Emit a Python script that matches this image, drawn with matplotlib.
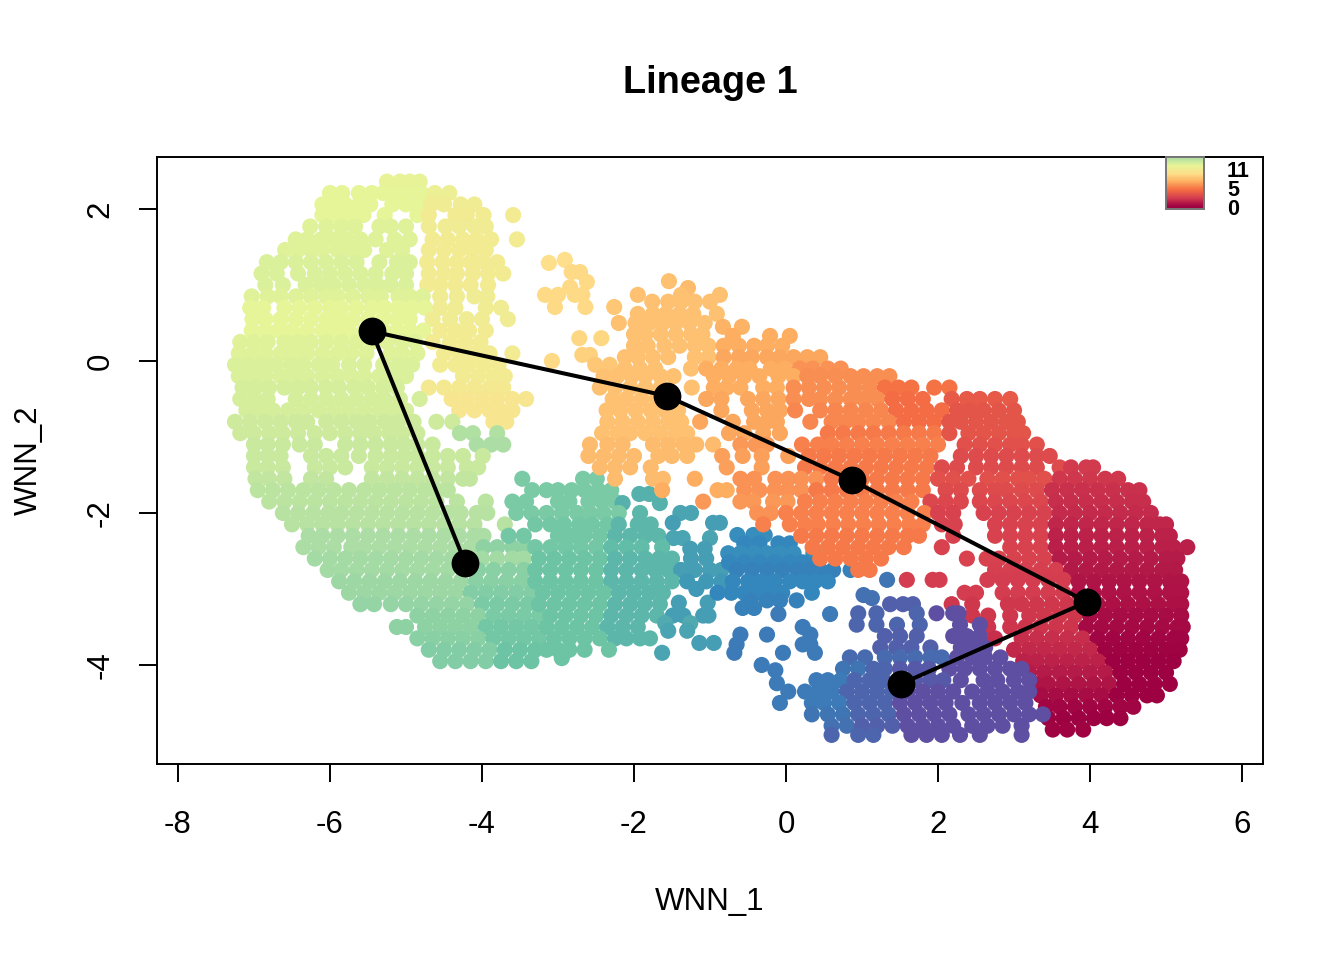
import matplotlib
matplotlib.use('Agg')
import matplotlib.pyplot as plt
from matplotlib.colors import LinearSegmentedColormap

plt.rcParams['font.family'] = ['Liberation Sans', 'DejaVu Sans']
plt.rcParams['axes.unicode_minus'] = False

# Spectral without the pale middle colour
palette = ['#9E0142', '#D53E4F', '#F46D43', '#FDAE61', '#FEE08B',
           '#E6F598', '#ABDDA4', '#66C2A5', '#3288BD', '#5E4FA2']

# each row: WNN_2 value, colour level (0-9), WNN_1 values
crescent_rows = [
    (2.36, 4.9, [-5.25, -5.08, -4.95, -4.82]),
    (2.21, 5.0, [-6.0, -5.84, -5.62, -5.45, -5.3, -5.13, -4.97, -4.8]),
    (2.21, 4.7, [-4.62, -4.43]),
    (2.06, 5.0, [-6.1, -5.95, -5.8, -5.62, -5.47, -5.18, -5.0, -4.82]),
    (2.06, 4.6, [-4.67, -4.5, -4.28, -4.1]),
    (1.92, 5.0, [-6.1, -5.93, -5.76, -5.56, -5.28, -4.85]),
    (1.92, 4.5, [-4.7, -4.35, -4.2, -3.98, -3.59]),
    (1.77, 5.1, [-6.26, -6.05, -5.85, -5.67, -5.35, -5.2, -5.0]),
    (1.77, 4.6, [-4.7, -4.48, -4.3, -4.1, -3.95]),
    (1.6, 5.1, [-6.45, -6.3, -6.12, -5.95, -5.78, -5.6, -5.4, -5.15, -4.95]),
    (1.6, 4.5, [-4.65, -4.45, -4.25, -4.07, -3.88, -3.54]),
    (1.46, 5.1, [-6.59, -6.42, -6.25, -6.1, -5.9, -5.72, -5.55, -5.25, -5.05]),
    (1.46, 4.5, [-4.7, -4.5, -4.3, -4.12, -3.95]),
    (1.3, 5.2, [-6.83, -6.65, -6.45, -6.25, -6.05, -5.85, -5.65, -5.35, -5.12, -4.95]),
    (1.3, 4.5, [-4.72, -4.52, -4.33, -4.15, -3.98, -3.8]),
    (1.15, 5.2, [-6.9, -6.7, -6.42, -6.2, -6.0, -5.8, -5.6, -5.4, -5.18, -5.0]),
    (1.15, 4.5, [-4.7, -4.5, -4.33, -4.12, -3.92, -3.72]),
    (1.0, 5.2, [-6.85, -6.62, -6.32, -6.12, -5.95, -5.75, -5.55, -5.38, -5.2, -5.0]),
    (1.0, 4.5, [-4.72, -4.55, -4.35, -4.15, -3.92]),
    (0.85, 5.1, [-7.03, -6.82, -6.65, -6.45, -6.25, -6.05, -5.9, -5.7, -5.5, -5.33, -5.1, -4.95, -4.78]),
    (0.85, 4.6, [-4.55, -4.33, -4.1, -3.93]),
    (0.7, 5.0, [-7.05, -6.88, -6.6, -6.4, -6.2, -6.0, -5.85, -5.65, -5.45, -5.28, -5.1, -4.92, -4.75]),
    (0.7, 4.6, [-4.55, -4.35, -3.95, -3.75]),
    (0.55, 5.0, [-7.02, -6.85, -6.65, -6.45, -6.25, -6.05, -5.88, -5.7, -5.5, -5.3, -5.12, -4.95]),
    (0.55, 4.6, [-4.65, -4.42, -4.2, -4.0, -3.66]),
    (0.4, 5.0, [-7.03, -6.85, -6.68, -6.5, -6.3, -6.1, -5.93, -5.75, -5.55, -5.3, -5.12, -4.95, -4.77]),
    (0.4, 4.5, [-4.55, -4.35, -4.17, -3.95]),
    (0.25, 5.1, [-7.18, -7.0, -6.82, -6.6, -6.42, -6.25, -6.05, -5.85, -5.65, -5.45, -5.25, -5.05, -4.88]),
    (0.25, 4.5, [-4.65, -4.42, -4.22, -4.02]),
    (0.1, 5.1, [-7.2, -7.02, -6.85, -6.65, -6.48, -6.3, -6.1, -5.9, -5.72, -5.52, -5.2, -5.05, -4.85]),
    (0.1, 4.5, [-4.5, -4.3, -4.1, -3.9, -3.6]),
    (-0.05, 5.2, [-7.25, -7.08, -6.9, -6.72, -6.52, -6.35, -6.15, -5.97, -5.75, -5.55, -5.3, -5.1, -4.92]),
    (-0.05, 4.5, [-4.55, -4.35, -4.18, -3.98, -3.78]),
    (-0.2, 5.2, [-7.2, -7.02, -6.85, -6.65, -6.48, -6.3, -6.1, -5.9, -5.72, -5.55, -5.35, -5.18, -5.0]),
    (-0.2, 4.5, [-4.25, -4.05, -3.85, -3.7]),
    (-0.35, 5.3, [-7.15, -6.98, -6.8, -6.6, -6.42, -6.25, -6.05, -5.88, -5.68, -5.5, -5.3, -5.12]),
    (-0.35, 4.4, [-4.7, -4.5, -4.3, -4.1, -3.9, -3.72]),
    (-0.5, 5.3, [-7.18, -7.0, -6.82, -6.45, -6.25, -6.05, -5.85, -5.65, -5.45, -5.28, -5.08, -4.82]),
    (-0.5, 4.3, [-4.4, -4.2, -4.0, -3.8, -3.6, -3.42]),
    (-0.65, 5.3, [-7.1, -6.92, -6.75, -6.55, -6.35, -6.15, -5.95, -5.75, -5.55, -5.35, -5.18, -5.0]),
    (-0.65, 4.3, [-4.3, -4.1, -3.9, -3.75, -3.6]),
    (-0.8, 5.4, [-7.25, -7.05, -6.85, -6.65, -6.45, -6.3, -6.05, -5.85, -5.65, -5.48, -5.28, -5.1, -4.9, -4.6, -4.39]),
    (-0.8, 4.3, [-3.85, -3.68]),
]

green_rows = [
    (-0.95, 5.4, [-7.18, -7.0, -6.8, -6.62, -6.42, -6.2, -6.0, -5.8, -5.6, -5.42, -5.22, -5.05, -4.85]),
    (-0.95, 5.9, [-4.29, -4.12, -3.8]),
    (-1.1, 5.5, [-7.0, -6.82, -6.62, -6.4, -6.2, -5.8, -5.6, -5.4, -5.2, -5.02, -4.85, -4.65]),
    (-1.1, 6.0, [-4.07, -3.88, -3.72]),
    (-1.25, 5.5, [-7.0, -6.82, -6.65, -6.25, -6.05, -5.85, -5.62, -5.4, -5.2, -5.02, -4.85, -4.65, -4.45, -4.25, -3.99]),
    (-1.4, 5.5, [-7.0, -6.82, -6.62, -6.2, -6.0, -5.8, -5.45, -5.25, -5.05, -4.85, -4.65, -4.45, -4.2, -4.05]),
    (-1.55, 5.6, [-6.98, -6.8, -6.6, -6.25, -6.05, -5.45, -5.25, -5.05, -4.85, -4.65, -4.45, -4.25, -4.16]),
    (-1.7, 5.7, [-6.95, -6.75, -6.55, -6.35, -6.15, -5.95, -5.75, -5.55, -5.35, -5.15, -4.95, -4.75, -4.6, -4.45]),
    (-1.85, 5.7, [-6.8, -6.6, -6.4, -6.2, -6.0, -5.8, -5.6, -5.4, -5.2, -5.0, -4.8, -4.6, -4.33, -3.95]),
    (-2.0, 5.8, [-6.62, -6.42, -6.22, -6.02, -5.85, -5.65, -5.45, -5.25, -5.05, -4.85, -4.65, -4.45, -4.28, -4.07, -3.93]),
    (-2.15, 5.8, [-6.5, -6.3, -6.1, -5.9, -5.7, -5.5, -5.3, -5.1, -4.9, -4.7, -4.5, -4.3, -4.1, -3.7]),
    (-2.3, 6.0, [-6.28, -6.1, -5.9, -5.7, -5.5, -5.3, -5.1, -4.9, -4.7, -4.5, -4.3, -4.1, -3.98]),
    (-2.45, 6.0, [-6.35, -6.15, -5.95, -5.72, -5.55, -5.35, -5.15, -4.95, -4.75, -4.55, -4.35, -4.15]),
    (-2.45, 6.4, [-3.98, -3.8, -3.6, -3.42]),
    (-2.6, 6.1, [-6.2, -6.0, -5.8, -5.6, -5.4, -5.2, -5.0, -4.8, -4.6, -4.4, -4.2, -4.0, -3.8, -3.6, -3.45]),
    (-2.75, 6.1, [-6.03, -5.85, -5.65, -5.45, -5.25, -5.05, -4.85, -4.65, -4.45, -4.25]),
    (-2.75, 6.5, [-4.05, -3.85, -3.65, -3.45]),
    (-2.9, 6.2, [-5.88, -5.68, -5.48, -5.28, -5.08, -4.88, -4.68, -4.48, -4.28]),
    (-2.9, 6.5, [-4.08, -3.88, -3.68, -3.48]),
    (-3.05, 6.2, [-5.75, -5.55, -5.35, -5.15, -4.95, -4.75, -4.55, -4.35]),
    (-3.05, 6.6, [-4.15, -3.95, -3.75, -3.55, -3.35]),
    (-3.2, 6.3, [-5.6, -5.42, -5.2, -5.0, -4.8, -4.6, -4.4, -4.2]),
    (-3.2, 6.7, [-4.0, -3.8, -3.6, -3.4]),
    (-3.35, 6.4, [-4.85, -4.65, -4.45, -4.25, -4.05]),
    (-3.35, 6.7, [-3.85, -3.65, -3.45, -3.25]),
    (-3.5, 6.4, [-5.12, -5.0, -4.75, -4.55, -4.35, -4.15]),
    (-3.5, 6.8, [-3.95, -3.75, -3.55, -3.35]),
    (-3.65, 6.5, [-4.85, -4.65, -4.45, -4.25, -4.05]),
    (-3.65, 6.8, [-3.85, -3.65, -3.45, -3.25]),
    (-3.8, 6.6, [-4.7, -4.5, -4.3, -4.1, -3.9]),
    (-3.8, 6.9, [-3.7, -3.5, -3.3]),
    (-3.95, 6.6, [-4.55, -4.35, -4.15, -3.95]),
    (-3.95, 6.9, [-3.75, -3.55, -3.35]),
]

teal_rows = [
    (-1.55, 6.7, [-3.47, -2.67, -2.49]),
    (-1.7, 6.7, [-3.34, -3.15, -3.0, -2.82, -2.65, -2.47, -2.3]),
    (-1.75, 7.3, [-1.93, -1.8]),
    (-1.85, 6.7, [-3.6, -3.42, -3.0, -2.85, -2.6, -2.42, -2.25]),
    (-1.87, 7.3, [-2.15, -1.66]),
    (-2.0, 6.7, [-3.55, -3.35, -3.15, -2.95, -2.75, -2.58, -2.4, -2.2]),
    (-2.0, 7.2, [-1.92]),
    (-2.0, 7.5, [-1.39, -1.25]),
    (-2.15, 6.8, [-3.3, -3.1, -2.92, -2.72, -2.55, -2.35]),
    (-2.15, 7.2, [-2.2, -1.95, -1.78]),
    (-2.13, 7.6, [-1.49, -0.87, -0.96]),
    (-2.3, 6.8, [-3.65, -3.45, -3.0, -2.82, -2.65, -2.45]),
    (-2.3, 7.2, [-2.25, -2.05, -1.85, -1.68]),
    (-2.33, 7.5, [-1.48, -1.36, -1.0]),
    (-2.45, 6.8, [-3.3, -3.1, -2.9, -2.7, -2.5]),
    (-2.45, 7.1, [-2.3, -2.1, -1.9, -1.63]),
    (-2.47, 7.6, [-1.26, -1.07]),
    (-2.6, 6.9, [-3.25, -3.05, -2.85, -2.65, -2.45]),
    (-2.6, 7.2, [-2.25, -2.05, -1.85, -1.67, -1.5]),
    (-2.6, 7.6, [-1.25, -1.05]),
    (-2.75, 6.9, [-3.3, -3.1, -2.9, -2.7, -2.5]),
    (-2.75, 7.2, [-2.3, -2.1, -1.9, -1.72, -1.55]),
    (-2.75, 7.6, [-1.38, -1.2, -1.0, -0.85]),
    (-2.9, 6.9, [-3.3, -3.1, -2.9, -2.7, -2.5]),
    (-2.9, 7.2, [-2.3, -2.1, -1.9, -1.7, -1.5]),
    (-2.9, 7.7, [-1.3, -1.05, -0.85]),
    (-3.05, 6.9, [-3.2, -3.0, -2.8, -2.6, -2.4]),
    (-3.05, 7.2, [-2.2, -2.0, -1.8, -1.62]),
    (-3.0, 7.7, [-1.18]),
    (-3.2, 6.9, [-3.25, -3.05, -2.85, -2.65, -2.45]),
    (-3.2, 7.2, [-2.25, -2.05, -1.86, -1.66]),
    (-3.18, 7.6, [-1.41, -1.03]),
    (-3.35, 6.9, [-3.1, -2.9, -2.7, -2.5]),
    (-3.35, 7.2, [-2.3, -2.1, -1.9, -1.7]),
    (-3.35, 7.6, [-1.49, -1.35, -1.09, -1.02]),
    (-3.45, 7.4, [-1.59, -1.26]),
    (-3.5, 6.9, [-3.15, -2.95, -2.75, -2.55]),
    (-3.5, 7.2, [-2.35, -2.15, -1.95]),
    (-3.55, 7.5, [-1.55, -1.3]),
    (-3.65, 6.9, [-3.05, -2.85, -2.65, -2.45]),
    (-3.65, 7.2, [-2.25, -2.1, -1.92, -1.79]),
    (-3.71, 7.6, [-1.14, -0.95]),
    (-3.8, 6.9, [-3.15, -3.0, -2.85, -2.65, -2.33]),
    (-3.84, 7.5, [-1.63]),
    (-3.91, 6.9, [-2.95]),
]

blue_rows = [
    (-2.29, 7.9, [-0.64, -0.43, -0.28]),
    (-2.4, 8.0, [-0.55, -0.35, -0.1, 0.05]),
    (-2.53, 7.9, [-0.76, -0.6, -0.42, -0.25, -0.08, 0.1, 0.36]),
    (-2.65, 8.0, [-0.75, -0.55, -0.35, -0.15, 0.05, 0.22, 0.4]),
    (-2.75, 8.1, [-0.65, -0.45, -0.25, -0.05, 0.15, 0.3, 0.45, 0.62, 0.85]),
    (-2.9, 8.0, [-0.7, -0.5, -0.32, -0.15, 0.05, 0.22, 0.38, 0.55]),
    (-3.05, 8.0, [-0.9, -0.72, -0.55, -0.38, -0.2, -0.05, 0.34]),
    (-3.15, 8.1, [-0.47, -0.25, -0.08, 0.14]),
    (-3.25, 8.1, [-0.57, -0.42]),
    (-3.33, 8.2, [-0.1, 0.58]),
    (-3.5, 8.2, [0.22]),
    (-3.6, 8.2, [-0.6, -0.25, 0.32]),
    (-3.73, 8.2, [-0.65, 0.22, 0.32]),
    (-3.84, 8.2, [-0.68, -0.04, 0.38]),
    (-4.0, 8.2, [-0.32]),
    (-4.07, 8.2, [-0.14]),
    (-4.24, 8.2, [-0.12]),
]

orange_rows = [
    (1.33, 4.0, [-2.91]),
    (1.29, 4.0, [-3.12]),
    (1.17, 3.9, [-2.82, -2.71]),
    (1.04, 3.9, [-2.62]),
    (0.97, 3.9, [-2.84]),
    (0.87, 3.9, [-3.17, -3.0, -2.78, -2.68]),
    (0.71, 3.9, [-3.04, -2.64]),
    (1.05, 3.4, [-1.54]),
    (0.96, 3.3, [-1.29]),
    (0.87, 3.4, [-1.95, -1.38, -0.87]),
    (0.78, 3.4, [-1.76, -1.55, -1.38, -1.2, -1.0]),
    (0.71, 3.5, [-2.26]),
    (0.62, 3.4, [-1.95, -1.75, -1.58, -1.4, -1.22, -0.91]),
    (0.5, 3.4, [-2.2, -1.98, -1.8, -1.62, -1.45, -1.27, -1.07]),
    (0.45, 3.1, [-0.83, -0.58]),
    (0.35, 3.4, [-2.0, -1.85, -1.65, -1.45, -1.25, -1.1]),
    (0.33, 3.0, [-0.7, -0.21, 0.05]),
    (0.3, 3.8, [-2.72, -2.43]),
    (0.2, 3.4, [-2.0, -1.82, -1.6, -1.4, -1.2, -1.02]),
    (0.2, 3.0, [-0.82, -0.62, -0.42, -0.25, -0.05]),
    (0.08, 3.7, [-2.68, -2.58]),
    (0.05, 3.4, [-2.12, -1.95, -1.75, -1.55, -1.2, -1.02]),
    (0.05, 2.9, [-0.82, -0.62, -0.45, -0.25, -0.08, 0.1, 0.28, 0.45]),
    (0.0, 3.9, [-3.08]),
    (-0.05, 3.5, [-2.51, -2.32]),
    (-0.1, 3.4, [-2.12, -1.92, -1.72, -1.25]),
    (-0.1, 3.0, [-1.05, -0.85, -0.65, -0.48, -0.2, -0.02]),
    (-0.1, 2.6, [0.18, 0.35, 0.55, 0.72]),
    (-0.2, 3.4, [-2.4, -2.22, -2.03, -1.85, -1.65, -1.48]),
    (-0.2, 3.0, [-0.95, -0.75, -0.55, -0.35, -0.1, 0.1]),
    (-0.2, 2.5, [0.28, 0.45, 0.65, 0.85, 1.02, 1.2, 1.36]),
    (-0.35, 3.4, [-2.45, -2.25, -2.05, -1.85, -1.65, -1.24]),
    (-0.35, 3.0, [-0.95, -0.78, -0.6, -0.3, -0.12]),
    (-0.35, 2.5, [0.1, 0.3, 0.5, 0.7, 0.9, 1.1]),
    (-0.35, 2.1, [1.3, 1.48, 1.65, 1.95, 2.15]),
    (-0.5, 3.4, [-2.28, -2.1, -1.9, -1.7]),
    (-0.5, 2.9, [-1.05, -0.85, -0.5, -0.3, -0.1]),
    (-0.5, 2.5, [0.1, 0.3, 0.45, 0.65, 0.85, 1.02, 1.2]),
    (-0.5, 2.0, [1.4, 1.6, 1.8]),
    (-0.5, 1.6, [2.18, 2.38, 2.55, 2.75, 2.95]),
    (-0.65, 3.4, [-2.36, -2.18, -1.98, -1.78, -1.6, -1.42]),
    (-0.65, 2.9, [-0.85, -0.45, -0.25, -0.08]),
    (-0.65, 2.4, [0.12, 0.45, 0.65, 0.85, 1.05, 1.25]),
    (-0.65, 2.0, [1.45, 1.65, 1.85, 2.05]),
    (-0.65, 1.5, [2.25, 2.42, 2.6, 2.8, 3.0]),
    (-0.8, 3.4, [-2.35, -2.15, -1.95, -1.75, -1.55, -1.38]),
    (-0.8, 2.9, [-1.13, -0.7, -0.42, -0.25, -0.12]),
    (-0.8, 2.4, [0.32, 0.6, 0.78, 0.95, 1.15, 1.35]),
    (-0.8, 2.0, [1.55, 1.75, 1.95]),
    (-0.8, 1.5, [2.15, 2.3, 2.5, 2.7, 2.9, 3.05]),
    (-0.95, 3.4, [-2.42, -2.22, -2.05, -1.85, -1.65, -1.45, -1.3]),
    (-0.95, 2.9, [-0.75, -0.55, -0.3, -0.08]),
    (-0.95, 2.2, [0.55, 0.75, 0.95, 1.15, 1.35, 1.55, 1.75, 1.95]),
    (-0.95, 1.5, [2.15, 2.4, 2.6, 2.8, 3.0, 3.12]),
    (-1.1, 3.3, [-2.58, -2.35, -2.15, -1.75, -1.55, -1.35, -1.18, -0.96]),
    (-1.1, 2.7, [-0.6, -0.4, -0.25]),
    (-1.1, 2.3, [0.21, 0.42, 0.6, 0.8, 1.0, 1.2, 1.4, 1.6, 1.8, 2.0]),
    (-1.1, 1.4, [2.35, 2.55, 2.75, 2.95, 3.1, 3.3]),
    (-1.25, 3.3, [-2.6, -2.4, -2.2, -2.0, -1.68, -1.5, -1.3]),
    (-1.25, 2.8, [-0.84, -0.57, -0.32, 0.03]),
    (-1.25, 2.2, [0.3, 0.5, 0.7, 0.9, 1.1, 1.3, 1.5, 1.7, 1.9]),
    (-1.25, 1.3, [2.3, 2.5, 2.7, 2.9, 3.1, 3.3, 3.47]),
    (-1.4, 3.3, [-2.45, -2.25, -2.05, -1.78]),
    (-1.4, 2.8, [-0.78, -0.32]),
    (-1.4, 2.2, [0.25, 0.45, 0.65, 0.85, 1.05, 1.25, 1.45, 1.65, 1.85]),
    (-1.4, 1.3, [2.05, 2.25, 2.5, 2.7, 2.9, 3.1, 3.3, 3.6]),
    (-1.55, 3.3, [-2.25, -1.75, -1.62]),
    (-1.55, 3.0, [-1.2]),
    (-1.55, 2.6, [-0.6, -0.42, -0.14, 0.03, 0.2, 0.4]),
    (-1.55, 2.2, [0.6, 0.8, 1.0, 1.2, 1.4, 1.6, 1.8]),
    (-1.55, 1.4, [2.0, 2.2, 2.4, 2.65, 2.85, 3.05, 3.2, 3.4]),
    (-1.7, 3.0, [-1.63, -0.9, -0.78]),
    (-1.7, 2.6, [-0.55, -0.35, -0.15, 0.02, 0.2]),
    (-1.7, 2.2, [0.4, 0.6, 0.8, 1.0, 1.2, 1.4, 1.6, 1.8]),
    (-1.7, 1.3, [2.1, 2.3, 2.55, 2.75, 2.9, 3.1, 3.3]),
    (-1.85, 2.7, [-1.09, -0.6, -0.43, -0.17, 0.02]),
    (-1.85, 2.3, [0.25, 0.45, 0.65, 0.85, 1.05, 1.25, 1.45, 1.65]),
    (-1.85, 1.2, [1.9, 2.1, 2.3, 2.55, 2.75, 2.95, 3.15, 3.35]),
    (-2.0, 2.6, [-0.38, -0.2]),
    (-2.0, 2.3, [0.0, 0.2, 0.4, 0.6, 0.8, 1.0, 1.2, 1.4, 1.6, 1.82]),
    (-2.0, 1.1, [2.0, 2.2, 2.6, 2.8, 3.0, 3.2, 3.4]),
    (-2.15, 2.3, [-0.3, 0.05, 0.25, 0.42, 0.62, 0.82, 1.02, 1.22, 1.42, 1.62, 1.8]),
    (-2.15, 1.1, [2.05, 2.22, 2.75, 2.95, 3.15, 3.35]),
    (-2.3, 2.2, [0.2, 0.4, 0.6, 0.8, 1.0, 1.2, 1.4, 1.6, 1.75]),
    (-2.3, 1.1, [2.2, 2.75, 2.95, 3.15, 3.35]),
    (-2.45, 2.2, [0.35, 0.55, 0.75, 0.95, 1.15, 1.35, 1.55]),
    (-2.6, 2.2, [0.45, 0.65, 0.85, 1.05, 1.25]),
    (-2.75, 2.2, [0.95, 1.1]),
]

red_rows = [
    (-1.4, 0.95, [3.75, 3.95, 4.04]),
    (-1.55, 0.9, [3.6, 3.8, 4.0, 4.2, 4.37]),
    (-1.7, 0.8, [3.5, 3.7, 3.9, 4.1, 4.3, 4.5, 4.65]),
    (-1.85, 0.75, [3.55, 3.75, 3.95, 4.15, 4.35, 4.55, 4.7]),
    (-2.0, 0.7, [3.6, 3.8, 4.0, 4.2, 4.4, 4.6, 4.8]),
    (-2.15, 0.6, [3.55, 3.75, 3.95, 4.15, 4.35, 4.55, 4.75, 4.92, 5.0]),
    (-2.3, 0.55, [3.55, 3.75, 3.95, 4.15, 4.35, 4.55, 4.75, 4.95, 5.05]),
    (-2.45, 1.1, [2.05, 2.95, 3.15, 3.35]),
    (-2.45, 0.5, [3.55, 3.75, 3.95, 4.15, 4.35, 4.55, 4.75, 4.95, 5.1, 5.28]),
    (-2.6, 1.1, [2.38, 2.64, 2.8, 3.0, 3.2, 3.4]),
    (-2.6, 0.45, [3.6, 3.8, 4.0, 4.2, 4.4, 4.6, 4.8, 5.0, 5.15]),
    (-2.75, 1.05, [2.75, 2.95, 3.15, 3.35, 3.55]),
    (-2.75, 0.4, [3.75, 3.95, 4.15, 4.35, 4.55, 4.75, 4.95, 5.12]),
    (-2.88, 1.0, [1.59, 1.93, 2.02, 2.65, 2.85, 3.05, 3.25, 3.45, 3.65]),
    (-2.9, 0.35, [3.85, 4.05, 4.25, 4.45, 4.65, 4.85, 5.05, 5.2]),
    (-3.05, 1.0, [2.35, 2.5, 2.85, 3.05, 3.25, 3.45, 3.65]),
    (-3.05, 0.3, [3.85, 4.05, 4.25, 4.45, 4.65, 4.85, 5.05, 5.2]),
    (-3.2, 0.9, [2.18, 2.45, 2.92, 3.1, 3.3, 3.5, 3.7]),
    (-3.2, 0.25, [3.9, 4.1, 4.3, 4.5, 4.7, 4.9, 5.1, 5.2]),
    (-3.35, 0.9, [2.45, 2.66, 2.95, 3.2, 3.4, 3.6, 3.8]),
    (-3.35, 0.2, [4.0, 4.2, 4.4, 4.6, 4.8, 5.0, 5.2]),
    (-3.5, 0.85, [2.66, 2.95, 3.15, 3.35, 3.55, 3.75]),
    (-3.5, 0.15, [3.95, 4.15, 4.35, 4.55, 4.75, 4.95, 5.15, 5.22]),
    (-3.65, 0.75, [2.75, 3.1, 3.3, 3.5, 3.7, 3.9]),
    (-3.65, 0.1, [4.1, 4.3, 4.5, 4.7, 4.9, 5.1, 5.2]),
    (-3.8, 0.65, [3.0, 3.2, 3.4, 3.6, 3.8, 4.0]),
    (-3.8, 0.05, [4.2, 4.4, 4.6, 4.8, 5.0, 5.18]),
    (-3.95, 0.55, [3.12, 3.3, 3.5, 3.7, 3.9, 4.1]),
    (-3.95, 0.0, [4.3, 4.5, 4.7, 4.9, 5.1]),
    (-4.1, 0.45, [3.2, 3.4, 3.6, 3.8, 4.0, 4.2]),
    (-4.1, 0.0, [4.4, 4.6, 4.8, 5.0]),
    (-4.25, 0.35, [3.28, 3.45, 3.65, 3.85, 4.05, 4.25]),
    (-4.25, 0.0, [4.45, 4.65, 4.85, 5.05]),
    (-4.4, 0.2, [3.35, 3.55, 3.75, 3.95, 4.15]),
    (-4.4, 0.0, [4.35, 4.55, 4.75, 4.88]),
    (-4.55, 0.1, [3.42, 3.6, 3.8, 4.0, 4.2, 4.4, 4.57]),
    (-4.7, 0.0, [3.45, 3.65, 3.85, 4.05, 4.22, 4.4]),
    (-4.85, 0.05, [3.51, 3.7, 3.91]),
]

purple_rows = [
    (-2.88, 8.3, [1.33]),
    (-3.08, 8.4, [1.02]),
    (-3.12, 8.4, [1.13]),
    (-3.2, 8.7, [1.37, 1.54, 1.67]),
    (-3.32, 8.6, [0.95, 1.19, 1.72]),
    (-3.32, 9.0, [1.98, 2.2, 2.27]),
    (-3.47, 8.6, [0.93, 1.19, 1.46, 1.76]),
    (-3.47, 9.0, [2.29, 2.55]),
    (-3.62, 8.7, [1.3, 1.5, 1.72]),
    (-3.62, 9.0, [2.2, 2.38, 2.55]),
    (-3.77, 8.7, [1.24, 1.45, 1.65, 1.9]),
    (-3.77, 9.0, [2.3, 2.45, 2.62]),
    (-3.9, 8.5, [0.84, 1.04, 1.3, 1.5, 1.7, 1.9, 2.05]),
    (-3.9, 9.0, [2.25, 2.45, 2.62, 2.82]),
    (-4.05, 8.3, [0.75, 0.95]),
    (-4.05, 8.6, [1.15, 1.3]),
    (-4.05, 8.8, [1.5, 1.7, 1.88]),
    (-4.05, 9.0, [2.15, 2.35, 2.55, 2.75, 2.95, 3.1]),
    (-4.2, 8.2, [0.4, 0.55, 0.72]),
    (-4.2, 8.6, [0.9, 1.1, 1.28]),
    (-4.2, 8.8, [1.5, 1.7, 1.9, 2.07]),
    (-4.2, 9.0, [2.3, 2.6, 2.78, 3.0, 3.2]),
    (-4.35, 8.2, [0.03, 0.25, 0.42, 0.6]),
    (-4.35, 8.6, [0.8, 1.0, 1.2, 1.4]),
    (-4.35, 9.0, [1.6, 1.8, 2.0, 2.2, 2.45, 2.65, 2.85, 3.05, 3.2]),
    (-4.5, 8.2, [-0.08, 0.34, 0.5, 0.7]),
    (-4.5, 8.6, [0.9, 1.1, 1.3]),
    (-4.5, 9.0, [1.5, 1.7, 1.9, 2.1, 2.32, 2.55, 2.75, 2.95, 3.15]),
    (-4.65, 8.3, [0.34, 0.55, 0.75]),
    (-4.65, 8.6, [0.95, 1.15, 1.35]),
    (-4.65, 9.0, [1.55, 1.75, 1.95, 2.15, 2.4, 2.6, 2.8, 3.0, 3.2, 3.38]),
    (-4.8, 8.4, [0.6, 0.8]),
    (-4.8, 8.7, [1.0, 1.2, 1.4]),
    (-4.8, 9.0, [1.6, 1.8, 2.0, 2.2, 2.45, 2.65, 2.85, 3.1]),
    (-4.92, 8.6, [0.6, 0.95, 1.15]),
    (-4.92, 9.0, [1.65, 1.85, 2.05, 2.29, 2.55, 3.1]),
]

# principal curve knots of the lineage
curve_x = [-4.22, -5.45, -1.57, 0.87, 3.96, 1.51]
curve_y = [-2.66, 0.39, -0.46, -1.57, -3.17, -4.25]

x_ticks = [-8, -6, -4, -2, 0, 2, 4, 6]
y_ticks = [-4, -2, 0, 2]
legend_levels = [5.9, 5.4, 4.9, 4.4, 3.9, 3.4, 2.9, 2.4, 1.9, 1.4, 0.9, 0.4, 0.0]
legend_labels = ['11', '5', '0']

cmap = LinearSegmentedColormap.from_list('spectral_cut', palette)

fig = plt.figure(figsize=(13.44, 9.6), dpi=100)
ax = fig.add_axes([157 / 1344, 1 - 764 / 960, 1106 / 1344, 607 / 960])

all_rows = crescent_rows + green_rows + teal_rows + blue_rows + orange_rows + red_rows + purple_rows
xs, ys, levels = [], [], []
for y, level, row in all_rows:
    for x in row:
        xs.append(x)
        ys.append(y)
        levels.append(level)

ax.scatter(xs, ys, c=levels, cmap=cmap, vmin=0, vmax=9, s=135, linewidths=0, zorder=2)
ax.plot(curve_x, curve_y, color='black', lw=2.9, zorder=3)
ax.scatter(curve_x, curve_y, color='black', s=400, linewidths=0, zorder=4)

ax.set_xlim(-8.276, 6.276)
ax.set_ylim(-5.303, 2.684)
ax.set_xticks(x_ticks)
ax.set_yticks(y_ticks)
ax.tick_params(axis='x', length=13, width=1.4, labelsize=22.5, pad=20)
ax.tick_params(axis='y', length=13, width=1.4, labelsize=22.5, pad=17)
for lab in ax.get_yticklabels():
    lab.set_rotation(90)
    lab.set_va('center')
for side in ax.spines.values():
    side.set_linewidth(1.4)

ax.set_title('Lineage 1', fontsize=27.3, fontweight='bold', pad=46)
ax.set_xlabel('WNN_1', fontsize=22.5, labelpad=34)
ax.set_ylabel('WNN_2', fontsize=22.5, labelpad=30)

# gradient legend in the top right corner
cax = ax.inset_axes([0.9123, 0.9143, 0.0344, 0.0857])
cax.imshow([[v] for v in legend_levels], cmap=cmap, vmin=0, vmax=9, aspect='auto', interpolation='bilinear')
cax.set_xticks([])
cax.set_yticks([])
for side in cax.spines.values():
    side.set_edgecolor('#777777')
    side.set_linewidth(1.4)
for label, pos in zip(legend_labels, [0.9753, 0.9456, 0.9143]):
    ax.text(0.9675, pos, label, transform=ax.transAxes, fontsize=15.5, fontweight='bold',
            ha='left', va='center')

fig.savefig('out.png', dpi=100)
